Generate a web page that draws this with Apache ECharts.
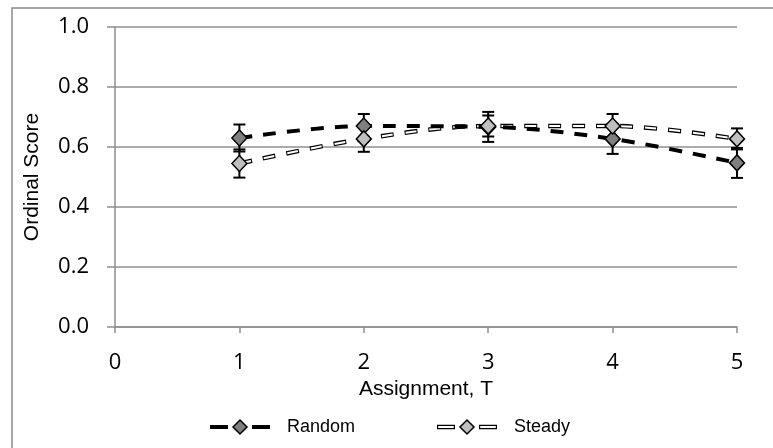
<!DOCTYPE html>
<html>
<head>
<meta charset="utf-8">
<script src="https://cdn.jsdelivr.net/npm/echarts@6/dist/echarts.min.js"></script>
<style>
  html, body { margin: 0; padding: 0; background: #fff; }
  #chart { width: 773px; height: 448px; }
</style>
</head>
<body>
<div id="chart"></div>
<script>
// Assignment index and mean ordinal scores with +/- error
const assignments = [1, 2, 3, 4, 5];
const randomMean = [0.63, 0.67, 0.667, 0.627, 0.547];
const randomErr = [0.045, 0.04, 0.05, 0.05, 0.05];
const steadyMean = [0.545, 0.627, 0.67, 0.67, 0.627];
const steadyErr = [0.047, 0.043, 0.035, 0.04, 0.035];
const seriesNames = ['Random', 'Steady'];

const labelFont = 'Open Sans';
const titleFont = 'Liberation Sans';
const axisGray = '#8f8f8f';

const pts = (m) => assignments.map((x, i) => [x, m[i]]);
const bars = (m, e) => assignments.map((x, i) => [x, m[i] - e[i], m[i] + e[i]]);

function errorBars(name, data) {
  return {
    name: name + ' error',
    type: 'custom',
    z: 1,
    silent: true,
    data: data,
    renderItem: function (params, api) {
      const x = api.value(0);
      const lo = api.coord([x, api.value(1)]);
      const hi = api.coord([x, api.value(2)]);
      const cap = 6;
      const style = { stroke: '#000', lineWidth: 2 };
      return {
        type: 'group',
        children: [
          { type: 'line', shape: { x1: lo[0], y1: lo[1], x2: hi[0], y2: hi[1] }, style },
          { type: 'line', shape: { x1: lo[0] - cap, y1: lo[1], x2: lo[0] + cap, y2: lo[1] }, style },
          { type: 'line', shape: { x1: hi[0] - cap, y1: hi[1], x2: hi[0] + cap, y2: hi[1] }, style }
        ]
      };
    }
  };
}

const dash = [13, 11];
const innerDash = [11, 13];

const chart = echarts.init(document.getElementById('chart'));

// Legend entries drawn as small line/diamond swatches with text
function legendEntry(x, y, kind, label) {
  const children = [];
  const segs = [[0, 18], [42, 60]];
  segs.forEach(s => {
    if (kind === 'solid') {
      children.push({ type: 'line', shape: { x1: x + s[0], y1: y, x2: x + s[1], y2: y }, style: { stroke: '#000', lineWidth: 4 } });
    } else {
      children.push({ type: 'line', shape: { x1: x + s[0], y1: y, x2: x + s[1], y2: y }, style: { stroke: '#000', lineWidth: 4.5 } });
      children.push({ type: 'line', shape: { x1: x + s[0] + 1.2, y1: y, x2: x + s[1] - 1.2, y2: y }, style: { stroke: '#fff', lineWidth: 2 } });
    }
  });
  children.push({
    type: 'polygon',
    shape: { points: [[x + 30, y - 7], [x + 37, y], [x + 30, y + 7], [x + 23, y]] },
    style: { fill: kind === 'solid' ? '#7f7f7f' : '#bfbfbf', stroke: '#000', lineWidth: 1.5 }
  });
  children.push({
    type: 'text', x: x + 77, y: y,
    style: { text: label, fontFamily: titleFont, fontSize: 18, fill: '#000', verticalAlign: 'middle' }
  });
  return children;
}

const option = {
  animation: false,
  textStyle: { fontFamily: labelFont, fontSize: 22 },
  grid: { left: 115, right: 36, top: 27, bottom: 121 },
  xAxis: {
    type: 'value', min: 0, max: 5, interval: 1,
    name: 'Assignment, T', nameLocation: 'middle', nameGap: 43,
    nameTextStyle: { fontFamily: titleFont, fontSize: 21, color: '#000' },
    axisLine: { show: true, lineStyle: { color: axisGray, width: 1.5 } },
    axisTick: { show: true, length: 6, lineStyle: { color: axisGray, width: 1.5 } },
    axisLabel: { show: true, fontSize: 22, fontFamily: labelFont, color: '#000', margin: 25 },
    splitLine: { show: false }
  },
  yAxis: {
    type: 'value', min: 0, max: 1, interval: 0.2,
    name: 'Ordinal Score', nameLocation: 'middle', nameGap: 72,
    nameTextStyle: { fontFamily: titleFont, fontSize: 21, color: '#000' },
    axisLine: { show: true, lineStyle: { color: axisGray, width: 1.5 } },
    axisTick: { show: true, length: 8, lineStyle: { color: axisGray, width: 1.5 } },
    axisLabel: { show: true, fontSize: 22, fontFamily: labelFont, color: '#000', margin: 26,
      formatter: v => v.toFixed(1) },
    splitLine: { show: true, lineStyle: { color: axisGray, width: 1.5 } }
  },
  graphic: [
    { type: 'rect', z: -10, shape: { x: 12, y: 8, width: 800, height: 500 },
      style: { fill: 'none', stroke: '#8a8a8a', lineWidth: 1.5 } },
    ...legendEntry(210, 427, 'solid', seriesNames[0]),
    ...legendEntry(437, 427, 'double', seriesNames[1])
  ],
  series: [
    errorBars('Random', bars(randomMean, randomErr)),
    errorBars('Steady', bars(steadyMean, steadyErr)),
    {
      name: 'Steady outline', type: 'line', z: 2, smooth: 0.35,
      data: pts(steadyMean), symbol: 'none',
      lineStyle: { color: '#000', width: 4.5, type: dash, cap: 'butt' }
    },
    {
      name: 'Steady', type: 'line', z: 3, smooth: 0.35,
      data: pts(steadyMean), symbol: 'none',
      lineStyle: { color: '#fff', width: 2, type: innerDash, dashOffset: -1, cap: 'butt' }
    },
    {
      name: 'Random', type: 'line', z: 4, smooth: 0.35,
      data: pts(randomMean), symbol: 'diamond', symbolSize: [15, 16],
      itemStyle: { color: '#7f7f7f', borderColor: '#000', borderWidth: 1.5 },
      lineStyle: { color: '#000', width: 4, type: dash, cap: 'butt' }
    },
    {
      name: 'Steady markers', type: 'scatter', z: 5,
      data: pts(steadyMean), symbol: 'diamond', symbolSize: [15, 16],
      itemStyle: { color: '#bfbfbf', borderColor: '#000', borderWidth: 1.5, opacity: 1 }
    }
  ]
};

chart.setOption(option);
</script>
</body>
</html>
